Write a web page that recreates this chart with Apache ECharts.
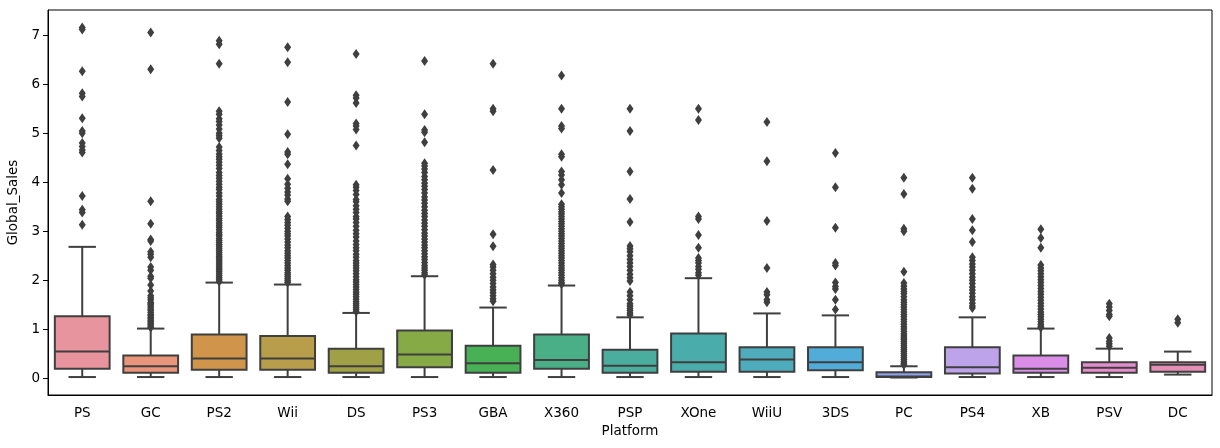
<!DOCTYPE html>
<html>
<head>
<meta charset="utf-8">
<title>Global_Sales by Platform</title>
<script src="https://cdn.jsdelivr.net/npm/echarts@6/dist/echarts.min.js"></script>
<style>
    html, body { margin: 0; padding: 0; background: #fff; }
    #chart { width: 1220px; height: 448px; }
</style>
</head>
<body>
<div id="chart"></div>
<script>
// box statistics per platform
var platforms   = ['PS', 'GC', 'PS2', 'Wii', 'DS', 'PS3', 'GBA', 'X360', 'PSP', 'XOne', 'WiiU', '3DS', 'PC', 'PS4', 'XB', 'PSV', 'DC'];
var whiskerLow  = [0.02, 0.02, 0.02, 0.02, 0.02, 0.02, 0.02, 0.02, 0.02, 0.02, 0.02, 0.02, 0.01, 0.02, 0.02, 0.02, 0.07];
var q1          = [0.19, 0.11, 0.17, 0.17, 0.11, 0.22, 0.11, 0.19, 0.11, 0.13, 0.13, 0.16, 0.02, 0.09, 0.11, 0.11, 0.13];
var medians     = [0.54, 0.24, 0.40, 0.40, 0.24, 0.48, 0.30, 0.37, 0.25, 0.32, 0.38, 0.32, 0.03, 0.22, 0.19, 0.21, 0.27];
var q3          = [1.26, 0.46, 0.89, 0.86, 0.60, 0.97, 0.66, 0.89, 0.58, 0.91, 0.63, 0.63, 0.12, 0.63, 0.46, 0.32, 0.32];
var whiskerHigh = [2.68, 1.01, 1.95, 1.91, 1.33, 2.08, 1.44, 1.89, 1.24, 2.04, 1.32, 1.28, 0.24, 1.24, 1.01, 0.60, 0.54];

// outliers per platform (same order as platforms)
var fliers = [
    [7.16, 7.12, 6.27, 5.82, 5.75, 5.31, 5.05, 5.0, 4.8, 4.73, 4.66, 4.61, 3.72, 3.44, 3.38, 3.13],
    [7.06, 6.31, 3.61, 3.15, 2.83, 2.8, 2.58, 2.53, 2.47, 2.27, 2.2, 2.08, 2.04, 1.9, 1.78, 1.68, 1.64, 1.6, 1.55, 1.52, 1.49, 1.45, 1.41, 1.38, 1.34, 1.3, 1.27, 1.24, 1.21, 1.18, 1.15, 1.12, 1.09, 1.06, 1.03],
    [6.89, 6.82, 6.42, 5.45, 5.39, 5.3, 5.24, 5.17, 5.09, 5.0, 4.95, 4.9, 4.72, 4.65, 4.58, 4.52, 4.47, 4.41, 4.35, 4.28, 4.2, 4.14, 4.08, 4.02, 3.96, 3.9, 3.85, 3.78, 3.72, 3.65, 3.6, 3.55, 3.5, 3.45, 3.4, 3.36, 3.31, 3.26, 3.22, 3.17, 3.12, 3.08, 3.03, 2.98, 2.94, 2.9, 2.85, 2.81, 2.77, 2.73, 2.69, 2.65, 2.61, 2.57, 2.53, 2.49, 2.45, 2.41, 2.37, 2.33, 2.29, 2.25, 2.21, 2.17, 2.13, 2.09, 2.05, 2.01, 1.97],
    [6.76, 6.45, 5.64, 4.98, 4.62, 4.57, 4.37, 4.07, 3.96, 3.88, 3.8, 3.74, 3.66, 3.61, 3.3, 3.24, 3.18, 3.12, 3.06, 3.0, 2.95, 2.9, 2.84, 2.78, 2.72, 2.66, 2.6, 2.55, 2.5, 2.45, 2.4, 2.35, 2.3, 2.25, 2.2, 2.15, 2.11, 2.07, 2.03, 1.99, 1.95],
    [6.62, 5.78, 5.72, 5.62, 5.2, 5.15, 5.08, 4.75, 3.95, 3.9, 3.83, 3.75, 3.65, 3.6, 3.52, 3.45, 3.38, 3.3, 3.25, 3.18, 3.1, 3.02, 2.95, 2.88, 2.8, 2.73, 2.66, 2.6, 2.53, 2.47, 2.4, 2.35, 2.3, 2.25, 2.19, 2.13, 2.07, 2.01, 1.96, 1.91, 1.86, 1.81, 1.76, 1.71, 1.66, 1.61, 1.56, 1.52, 1.48, 1.44, 1.4, 1.36],
    [6.48, 5.39, 5.07, 5.02, 4.82, 4.39, 4.33, 4.27, 4.2, 4.12, 4.05, 3.98, 3.92, 3.85, 3.78, 3.7, 3.64, 3.57, 3.5, 3.43, 3.36, 3.3, 3.23, 3.16, 3.1, 3.03, 2.96, 2.9, 2.84, 2.78, 2.72, 2.66, 2.6, 2.54, 2.48, 2.42, 2.36, 2.3, 2.25, 2.2, 2.15, 2.11],
    [6.42, 5.5, 5.45, 4.25, 2.94, 2.69, 2.32, 2.27, 2.2, 2.13, 2.06, 2.0, 1.93, 1.86, 1.8, 1.74, 1.68, 1.62, 1.57],
    [6.18, 5.5, 5.15, 5.1, 4.57, 4.52, 4.22, 4.15, 4.05, 3.95, 3.78, 3.55, 3.5, 3.45, 3.4, 3.35, 3.3, 3.25, 3.2, 3.15, 3.1, 3.05, 3.0, 2.95, 2.9, 2.85, 2.8, 2.75, 2.7, 2.65, 2.6, 2.55, 2.5, 2.45, 2.4, 2.35, 2.3, 2.25, 2.2, 2.15, 2.1, 2.05, 2.0, 1.95, 1.92],
    [5.5, 5.05, 4.22, 3.66, 3.19, 2.7, 2.64, 2.58, 2.5, 2.42, 2.35, 2.28, 2.2, 2.12, 2.05, 1.98, 1.76, 1.68, 1.6, 1.52, 1.47, 1.42, 1.38, 1.33, 1.29],
    [5.5, 5.27, 3.3, 3.25, 2.92, 2.66, 2.45, 2.4, 2.35, 2.28, 2.22, 2.15, 2.1],
    [5.23, 4.43, 3.21, 2.25, 1.76, 1.7, 1.6, 1.55],
    [4.6, 3.9, 3.07, 2.35, 2.3, 1.95, 1.87, 1.82, 1.6, 1.4],
    [4.09, 3.76, 3.05, 3.0, 2.17, 1.94, 1.88, 1.82, 1.77, 1.72, 1.66, 1.6, 1.55, 1.5, 1.45, 1.4, 1.35, 1.3, 1.25, 1.2, 1.15, 1.1, 1.05, 1.0, 0.95, 0.9, 0.86, 0.82, 0.78, 0.74, 0.7, 0.66, 0.62, 0.58, 0.54, 0.5, 0.46, 0.42, 0.38, 0.34, 0.3, 0.27],
    [4.09, 3.87, 3.25, 3.02, 2.78, 2.47, 2.4, 2.33, 2.27, 2.2, 2.13, 2.06, 2.0, 1.93, 1.86, 1.8, 1.73, 1.66, 1.6, 1.53, 1.47, 1.43],
    [3.04, 2.86, 2.66, 2.31, 2.25, 2.19, 2.13, 2.07, 2.01, 1.95, 1.89, 1.83, 1.77, 1.71, 1.65, 1.59, 1.53, 1.47, 1.41, 1.35, 1.3, 1.25, 1.2, 1.15, 1.1, 1.06, 1.03],
    [1.52, 1.45, 1.38, 1.3, 1.26, 0.82, 0.75, 0.7, 0.65],
    [1.2, 1.13]
];

var boxColors = ['#e8949f', '#e8957b', '#d0954b', '#b89e4a', '#a0a046', '#86aa46', '#48b055', '#4aae87', '#4aad9d',
                 '#4bacac', '#4eacbd', '#52acd9', '#8d9fe8', '#bca3ea', '#da8ee8', '#e68dce', '#e68fb6'];
var yTicks = [0, 1, 2, 3, 4, 5, 6, 7];

var edge = '#3f3f3f';
var font = 'DejaVu Sans';

var boxData = platforms.map(function (p, i) {
    return [i, whiskerLow[i], q1[i], medians[i], q3[i], whiskerHigh[i]];
});
var flierData = [];
fliers.forEach(function (vals, i) {
    vals.forEach(function (v) { flierData.push([i, v]); });
});

function lineStyle() {
    return { stroke: edge, lineWidth: 2 };
}

function renderBox(params, api) {
    var i = api.value(0);
    var lo = api.coord([i, api.value(1)]);
    var b1 = api.coord([i, api.value(2)]);
    var md = api.coord([i, api.value(3)]);
    var b3 = api.coord([i, api.value(4)]);
    var hi = api.coord([i, api.value(5)]);
    var w = api.size([1, 0])[0] * 0.8;
    var c = w / 4;
    var x = lo[0];
    return {
        type: 'group',
        children: [
            { type: 'line', shape: { x1: x, y1: b3[1], x2: x, y2: hi[1] }, style: lineStyle() },
            { type: 'line', shape: { x1: x, y1: b1[1], x2: x, y2: lo[1] }, style: lineStyle() },
            { type: 'line', shape: { x1: x - c, y1: hi[1], x2: x + c, y2: hi[1] }, style: lineStyle() },
            { type: 'line', shape: { x1: x - c, y1: lo[1], x2: x + c, y2: lo[1] }, style: lineStyle() },
            { type: 'rect', shape: { x: x - w / 2, y: b3[1], width: w, height: b1[1] - b3[1] },
              style: { fill: boxColors[i], stroke: edge, lineWidth: 2 } },
            { type: 'line', shape: { x1: x - w / 2, y1: md[1], x2: x + w / 2, y2: md[1] }, style: lineStyle() }
        ]
    };
}

var chart = echarts.init(document.getElementById('chart'));
chart.setOption({
    animation: false,
    grid: { left: 48, right: 8, top: 10, bottom: 53, outerBoundsMode: 'none',
            show: true, borderColor: '#000', borderWidth: 1 },
    xAxis: {
        type: 'category',
        data: platforms,
        name: 'Platform',
        nameLocation: 'middle',
        nameGap: 29,
        nameTextStyle: { color: '#000', fontFamily: font, fontSize: 13.5 },
        axisLine: { onZero: false, lineStyle: { color: '#000', width: 1 } },
        axisTick: { alignWithLabel: true, length: 5, lineStyle: { color: '#000' } },
        axisLabel: { color: '#000', fontFamily: font, fontSize: 13.5, margin: 11, interval: 0 },
        splitLine: { show: false }
    },
    yAxis: {
        type: 'value',
        min: -0.347,
        max: 7.52,
        name: 'Global_Sales',
        nameLocation: 'middle',
        nameRotate: 90,
        nameGap: 21,
        nameTextStyle: { color: '#000', fontFamily: font, fontSize: 13.5 },
        axisLine: { show: true, lineStyle: { color: '#000', width: 1 } },
        axisTick: { show: true, length: 5, customValues: yTicks, lineStyle: { color: '#000' } },
        axisLabel: { color: '#000', fontFamily: font, fontSize: 13.5, margin: 8, customValues: yTicks },
        splitLine: { show: false }
    },
    series: [
        {
            type: 'custom',
            renderItem: renderBox,
            encode: { x: 0, y: [1, 2, 3, 4, 5] },
            data: boxData,
            silent: true
        },
        {
            type: 'scatter',
            symbol: 'diamond',
            symbolSize: [7, 10],
            itemStyle: { color: edge, opacity: 1 },
            data: flierData,
            silent: true
        }
    ]
});
</script>
</body>
</html>
